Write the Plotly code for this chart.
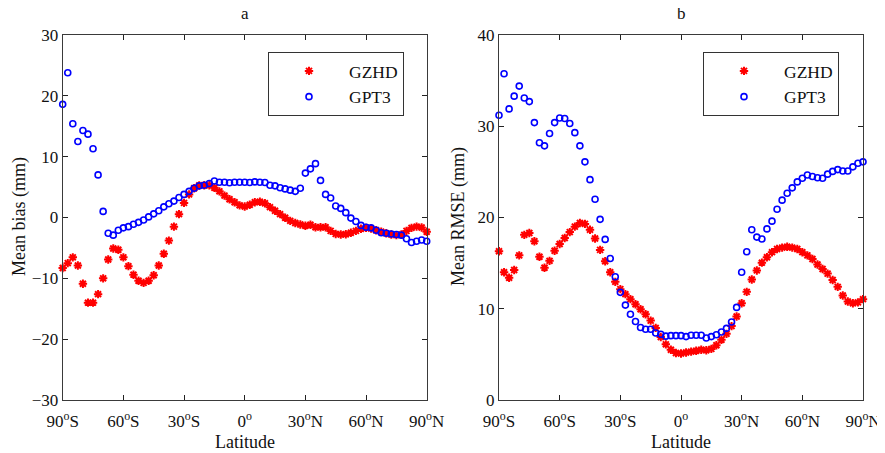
import plotly.graph_objects as go

lat = [-90 + 2.5 * i for i in range(73)]

bias_gzhd = [-8.3, -7.5, -6.55, -7.9, -10.9, -14.0, -14.0, -12.6, -10.0, -6.9,
             -5.1, -5.3, -6.55, -8.0, -9.4, -10.4, -10.75, -10.4, -9.5, -7.9,
             -5.95, -3.8, -1.5, 0.55, 2.4, 3.8, 4.8, 5.25, 5.3, 5.3,
             4.9, 4.3, 3.6, 3.0, 2.5, 2.0, 1.8, 2.1, 2.5, 2.6,
             2.35, 1.7, 1.1, 0.55, -0.05, -0.55, -0.9, -1.15, -1.35, -1.2,
             -1.6, -1.6, -1.6, -2.2, -2.7, -2.8, -2.75, -2.5, -2.2, -1.85,
             -1.7, -1.8, -2.1, -2.35, -2.6, -2.8, -2.9, -2.8, -2.2, -1.7,
             -1.5, -1.65, -2.35]

bias_gpt3 = [18.6, 23.8, 15.4, 12.5, 14.3, 13.7, 11.3, 7.0, 1.0, -2.6,
             -2.9, -2.1, -1.7, -1.5, -1.1, -0.8, -0.4, 0.1, 0.6, 1.1,
             1.75, 2.25, 2.7, 3.3, 3.8, 4.3, 4.8, 5.2, 5.3, 5.6,
             6.0, 5.8, 5.8, 5.7, 5.8, 5.8, 5.8, 5.75, 5.85, 5.8,
             5.75, 5.3, 5.2, 4.9, 4.7, 4.5, 4.3, 4.8, 7.3, 8.0,
             8.85, 6.1, 3.8, 3.2, 1.9, 1.5, 0.8, -0.1, -0.65, -1.3,
             -1.6, -1.7, -2.1, -2.5, -2.6, -2.7, -2.8, -2.9, -3.5, -4.1,
             -3.9, -3.7, -3.9]

rmse_gzhd = [16.3, 14.0, 13.4, 14.25, 15.85, 18.1, 18.3, 17.4, 15.7, 14.5,
             15.25, 16.35, 17.1, 17.75, 18.4, 19.0, 19.4, 19.3, 18.65, 17.7,
             16.45, 15.2, 14.0, 12.95, 12.15, 11.6, 11.05, 10.5, 9.95, 9.4,
             8.7, 7.9, 6.9, 6.1, 5.5, 5.15, 5.1, 5.2, 5.3, 5.4,
             5.5, 5.45, 5.6, 6.0, 6.6, 7.25, 8.1, 9.15, 10.6, 11.85,
             13.2, 14.2, 15.05, 15.65, 16.2, 16.55, 16.7, 16.8, 16.7, 16.55,
             16.2, 15.85, 15.45, 14.85, 14.35, 13.85, 13.15, 12.4, 11.45, 10.8,
             10.6, 10.7, 11.05]

rmse_gpt3 = [31.2, 35.75, 31.9, 33.3, 34.4, 33.1, 32.7, 30.4, 28.2, 27.85,
             29.2, 30.4, 30.9, 30.85, 30.3, 29.3, 27.85, 26.1, 24.15, 22.0,
             19.8, 17.6, 15.5, 13.5, 11.8, 10.4, 9.4, 8.6, 7.95, 7.75,
             7.75, 7.35, 7.2, 7.0, 7.05, 7.05, 7.05, 6.95, 7.1, 7.1,
             7.1, 6.8, 6.95, 7.15, 7.45, 7.85, 8.55, 10.15, 14.0, 16.25,
             18.65, 17.85, 17.65, 18.75, 19.6, 20.9, 21.9, 22.65, 23.25, 23.9,
             24.3, 24.65, 24.5, 24.35, 24.3, 24.75, 25.05, 25.25, 25.1, 25.1,
             25.55, 25.95, 26.1]

x_tickvals = [-90, -60, -30, 0, 30, 60, 90]
x_ticktext = ["90<sup>o</sup>S", "60<sup>o</sup>S", "30<sup>o</sup>S", "0<sup>o</sup>",
              "30<sup>o</sup>N", "60<sup>o</sup>N", "90<sup>o</sup>N"]

FONT = "Liberation Serif"
RED = "#ff0000"
BLUE = "#0000ff"
TXT = "#111111"

fig = go.Figure()

def add(x, y, name, xa, ya, legend, kind):
    if kind == "gzhd":
        marker = dict(symbol="asterisk-open", size=7, color=RED, line=dict(width=2.0, color=RED))
    else:
        marker = dict(symbol="circle-open", size=6, color=BLUE, line=dict(width=1.6, color=BLUE))
    fig.add_trace(go.Scatter(x=x, y=y, mode="markers", name=name, marker=marker,
                             xaxis=xa, yaxis=ya, legend=legend, cliponaxis=False))

add(lat, bias_gzhd, "GZHD", "x", "y", "legend", "gzhd")
add(lat, bias_gpt3, "GPT3", "x", "y", "legend", "gpt3")
add(lat, rmse_gzhd, "GZHD", "x2", "y2", "legend2", "gzhd")
add(lat, rmse_gpt3, "GPT3", "x2", "y2", "legend2", "gpt3")

# The page body keeps its default 8px margin, so the figure starts 8px in;
# page-pixel positions below are converted to figure fractions.
OFF = 8
W, H = 885, 453
def px_x(p):
    return (p - OFF) / W
def px_y(p):
    return 1 - (p - OFF) / H

axis_common = dict(showline=True, linecolor="#3a3a3a", linewidth=1, mirror="ticks",
                   ticks="inside", ticklen=5, tickwidth=1.2, tickcolor="#222",
                   showgrid=False, zeroline=False, automargin=False,
                   tickfont=dict(family=FONT, size=17, color=TXT))

xdomL = [px_x(62.7), px_x(426.7)]
xdomR = [px_x(499), px_x(863)]
ydom = [px_y(400), px_y(35)]

def label(text, x, y, angle=0, size=18):
    return dict(text=text, x=x, y=y, xref="paper", yref="paper", xanchor="center", yanchor="middle",
                textangle=angle, showarrow=False, font=dict(family=FONT, size=size, color=TXT))

fig.update_layout(
    width=W, height=H,
    margin=dict(l=0, r=0, t=0, b=0, pad=0, autoexpand=False),
    paper_bgcolor="white", plot_bgcolor="white",
    font=dict(family=FONT, size=17, color=TXT),
    showlegend=True,
    xaxis=dict(domain=xdomL, range=[-90, 90], tickvals=x_tickvals, ticktext=x_ticktext,
               anchor="y", ticklabelstandoff=6, **axis_common),
    yaxis=dict(domain=ydom, range=[-30, 30], tickvals=[-30, -20, -10, 0, 10, 20, 30],
               anchor="x", **axis_common),
    xaxis2=dict(domain=xdomR, range=[-90, 90], tickvals=x_tickvals, ticktext=x_ticktext,
                anchor="y2", ticklabelstandoff=6, **axis_common),
    yaxis2=dict(domain=ydom, range=[0, 40], tickvals=[0, 10, 20, 30, 40],
                anchor="x2", **axis_common),
    legend=dict(x=px_x(268), y=px_y(52), xanchor="left", yanchor="top",
                bordercolor="#333", borderwidth=1, bgcolor="white",
                itemwidth=70, font=dict(family=FONT, size=17.5, color=TXT),
                tracegroupgap=0),
    legend2=dict(x=px_x(703), y=px_y(52), xanchor="left", yanchor="top",
                 bordercolor="#333", borderwidth=1, bgcolor="white",
                 itemwidth=70, font=dict(family=FONT, size=17.5, color=TXT),
                 tracegroupgap=0),
    annotations=[
        label("a", (xdomL[0] + xdomL[1]) / 2, px_y(13), size=17),
        label("b", (xdomR[0] + xdomR[1]) / 2, px_y(13), size=17),
        label("Latitude", (xdomL[0] + xdomL[1]) / 2, px_y(442)),
        label("Latitude", (xdomR[0] + xdomR[1]) / 2, px_y(442)),
        label("Mean bias (mm)", px_x(19), px_y(217), angle=-90),
        label("Mean RMSE (mm)", px_x(458), px_y(217), angle=-90),
    ],
)

fig.write_html("out.html", config={"displayModeBar": False})
